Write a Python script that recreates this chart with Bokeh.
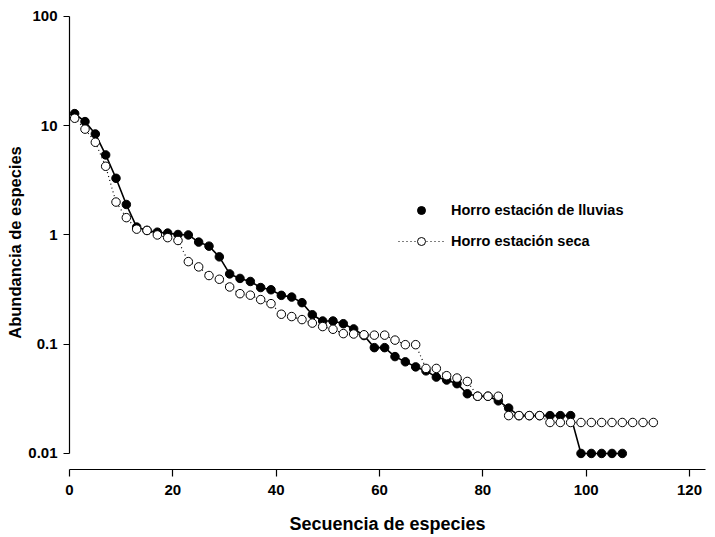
from bokeh.plotting import figure
from bokeh.models import FixedTicker, Legend, LegendItem, ColumnDataSource
from bokeh.embed import file_html
from bokeh.resources import INLINE

# Horro estación de lluvias (filled circles, solid line)
rank_lluvias = [1, 3, 5, 7, 9, 11, 13, 15, 17, 19, 21, 23, 25, 27, 29, 31, 33, 35,
                37, 39, 41, 43, 45, 47, 49, 51, 53, 55, 57, 59, 61, 63, 65, 67, 69,
                71, 73, 75, 77, 79, 81, 83, 85, 87, 89, 91, 93, 95, 97, 99, 101, 103,
                105, 107]
abund_lluvias = [12.9, 10.9, 8.4, 5.4, 3.3, 1.9, 1.18, 1.1, 1.06, 1.04, 1.01, 1.0,
                 0.86, 0.79, 0.63, 0.44, 0.40, 0.375, 0.33, 0.315, 0.28, 0.27, 0.24,
                 0.186, 0.163, 0.163, 0.154, 0.138, 0.12, 0.093, 0.093, 0.077, 0.069,
                 0.062, 0.057, 0.050, 0.047, 0.0435, 0.0352, 0.0334, 0.0334, 0.0303,
                 0.026, 0.0222, 0.0222, 0.0222, 0.0222, 0.0222, 0.0222, 0.01, 0.01,
                 0.01, 0.01, 0.01]

# Horro estación seca (open circles, dotted line)
rank_seca = [1, 3, 5, 7, 9, 11, 13, 15, 17, 19, 21, 23, 25, 27, 29, 31, 33, 35, 37,
             39, 41, 43, 45, 47, 49, 51, 53, 55, 57, 59, 61, 63, 65, 67, 69, 71, 73,
             75, 77, 79, 81, 83, 85, 87, 89, 91, 93, 95, 97, 99, 101, 103, 105, 107,
             109, 111, 113]
abund_seca = [11.7, 9.3, 7.05, 4.25, 2.0, 1.44, 1.13, 1.10, 1.0, 0.945, 0.89, 0.57,
              0.51, 0.425, 0.393, 0.334, 0.29, 0.281, 0.256, 0.235, 0.188, 0.179,
              0.168, 0.156, 0.145, 0.137, 0.125, 0.124, 0.122, 0.121, 0.121, 0.109,
              0.099, 0.099, 0.060, 0.060, 0.0515, 0.049, 0.0456, 0.0334, 0.0334,
              0.0334, 0.0222, 0.0222, 0.0222, 0.0222, 0.0192, 0.0192, 0.0192, 0.0192,
              0.0192, 0.0192, 0.0192, 0.0192, 0.0192, 0.0192, 0.0192]

x_ticks = [0, 20, 40, 60, 80, 100, 120]
y_ticks = [0.01, 0.1, 1, 10, 100]
y_tick_labels = ["0.01", "0.1", "1", "10", "100"]

series_names = ["Horro estación de lluvias", "Horro estación seca"]
x_title = "Secuencia de especies"
y_title = "Abundancia de especies"

FONT = "Liberation Sans"

p = figure(width=715, height=537, y_axis_type="log",
           x_range=(0, 123.1), y_range=(0.00713, 102),
           output_backend="svg", toolbar_location=None,
           min_border_left=69, min_border_right=10,
           min_border_top=15, min_border_bottom=68)
p.outline_line_color = None
p.xgrid.visible = False
p.ygrid.visible = False
p.background_fill_color = "white"
p.border_fill_color = "white"

src_l = ColumnDataSource(dict(x=rank_lluvias, y=abund_lluvias))
src_s = ColumnDataSource(dict(x=rank_seca, y=abund_seca))

l_line = p.line("x", "y", source=src_l, line_color="black", line_width=1.6)
l_pts = p.scatter("x", "y", source=src_l, marker="circle", size=8.5,
                  fill_color="black", line_color="black")
s_line = p.line("x", "y", source=src_s, line_color="black", line_width=1.2,
                line_dash="1 3")
s_pts = p.scatter("x", "y", source=src_s, marker="circle", size=8.5,
                  fill_color="white", line_color="black", line_width=1)

# axes
for ax in (p.xaxis[0], p.yaxis[0]):
    ax.axis_line_color = "black"
    ax.axis_line_width = 1.2
    ax.major_tick_line_color = "black"
    ax.major_tick_line_width = 1.2
    ax.minor_tick_line_color = None
    ax.major_tick_in = 0
    ax.major_label_text_font = FONT
    ax.major_label_text_font_style = "bold"
    ax.major_label_text_font_size = "15px"
    ax.major_label_text_color = "black"
    ax.axis_label_text_font = FONT
    ax.axis_label_text_font_style = "bold"
    ax.axis_label_text_color = "black"

xa = p.xaxis[0]
xa.ticker = FixedTicker(ticks=x_ticks)
xa.bounds = (0, 123.1)
xa.major_tick_out = 7
xa.major_label_standoff = 8
xa.axis_label = x_title
xa.axis_label_text_font_size = "18px"
xa.axis_label_standoff = 16

ya = p.yaxis[0]
ya.ticker = FixedTicker(ticks=y_ticks)
ya.bounds = (0.01, 100)
ya.major_tick_out = 6
ya.major_label_standoff = 6
ya.major_label_overrides = {t: lab for t, lab in zip(y_ticks, y_tick_labels)}
ya.axis_label = y_title
ya.axis_label_text_font_size = "16.5px"
ya.axis_label_standoff = 1

legend = Legend(items=[LegendItem(label=series_names[0], renderers=[l_pts]),
                       LegendItem(label=series_names[1], renderers=[s_line, s_pts])],
                location=(329, 218), orientation="vertical",
                glyph_width=46, glyph_height=20, label_height=20, spacing=11,
                label_standoff=7, padding=0, margin=0,
                border_line_color=None, background_fill_alpha=0,
                label_text_font=FONT, label_text_font_style="bold",
                label_text_font_size="14.5px", label_text_color="black")
p.add_layout(legend)

open("out.html", "w").write(file_html(p, INLINE))
